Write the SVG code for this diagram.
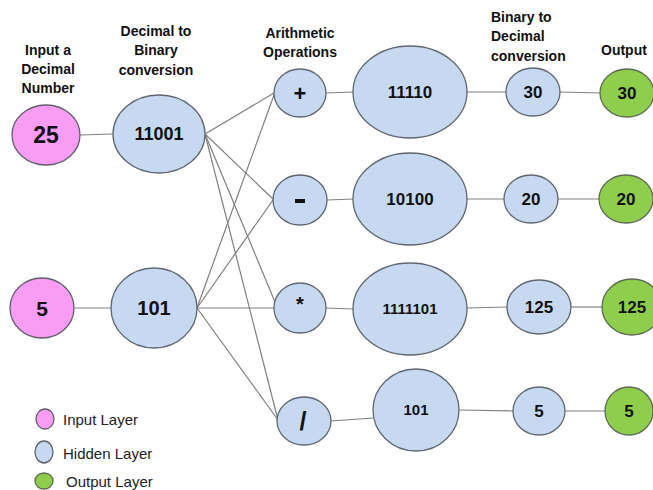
<svg xmlns="http://www.w3.org/2000/svg" width="653" height="490" viewBox="0 0 653 490">
<style>
.in{fill:#f89cf4;stroke:#5f5f6a;stroke-width:1.3}
.hid{fill:#c6d9f1;stroke:#5f6670;stroke-width:1.3}
.out{fill:#8fce4c;stroke:#5f6a55;stroke-width:1.3}
.c line{stroke:#808080;stroke-width:1.2}
text{font-family:"Liberation Sans",Arial,sans-serif;font-weight:bold;fill:#111;text-anchor:middle}
.h{font-size:14px}
.lg{font-weight:normal;font-size:15px;text-anchor:start;fill:#222}
</style>
<rect width="653" height="490" fill="#fff"/>
<g id="headers">
<text class="h" x="48" y="55">Input a</text>
<text class="h" x="48" y="74">Decimal</text>
<text class="h" x="48" y="93">Number</text>
<text class="h" x="156" y="36">Decimal to</text>
<text class="h" x="156" y="55">Binary</text>
<text class="h" x="156" y="75">conversion</text>
<text class="h" x="300" y="38">Arithmetic</text>
<text class="h" x="300" y="57">Operations</text>
<text class="h" x="491" y="22" style="text-anchor:start">Binary to</text>
<text class="h" x="491" y="41" style="text-anchor:start">Decimal</text>
<text class="h" x="491" y="61" style="text-anchor:start">conversion</text>
<text class="h" x="601" y="55" style="text-anchor:start">Output</text>
</g>
<g class="c" id="connectors">
<line x1="80" y1="135" x2="113" y2="134"/>
<line x1="75" y1="308" x2="111" y2="308"/>
<line x1="205" y1="134" x2="274" y2="93"/>
<line x1="205" y1="134" x2="273" y2="199"/>
<line x1="205" y1="134" x2="275" y2="302"/>
<line x1="205" y1="134" x2="278" y2="420"/>
<line x1="197" y1="308" x2="274" y2="95"/>
<line x1="197" y1="308" x2="273" y2="200"/>
<line x1="197" y1="308" x2="274" y2="308"/>
<line x1="197" y1="308" x2="278" y2="420"/>
<line x1="326" y1="93" x2="353" y2="92"/>
<line x1="467" y1="92" x2="506" y2="92"/>
<line x1="560" y1="92" x2="600" y2="93"/>
<line x1="327" y1="200" x2="353" y2="199"/>
<line x1="467" y1="199" x2="504" y2="199"/>
<line x1="558" y1="199" x2="599" y2="199"/>
<line x1="326" y1="308" x2="353" y2="309"/>
<line x1="467" y1="308" x2="507" y2="307"/>
<line x1="571" y1="307" x2="602" y2="307"/>
<line x1="331" y1="421" x2="373" y2="418"/>
<line x1="459" y1="410" x2="513" y2="411"/>
<line x1="565" y1="411" x2="605" y2="411"/>
</g>
<g id="n-in25"><ellipse class="in" cx="46" cy="135" rx="34" ry="30"/><text x="46" y="143" style="font-size:23px">25</text></g>
<g id="n-in5"><ellipse class="in" cx="42" cy="308" rx="32" ry="30"/><text x="42" y="316" style="font-size:21px">5</text></g>
<g id="n-b11001"><ellipse class="hid" cx="159" cy="134" rx="46" ry="39"/><text x="159" y="140" style="font-size:18px">11001</text></g>
<g id="n-b101"><ellipse class="hid" cx="154" cy="308" rx="43" ry="40"/><text x="154" y="315" style="font-size:20px">101</text></g>
<g id="n-plus"><ellipse class="hid" cx="300" cy="93" rx="26" ry="24"/><text x="300" y="101" style="font-size:22px">+</text></g>
<g id="n-minus"><ellipse class="hid" cx="300" cy="200" rx="27" ry="25"/><rect x="295" y="199" width="10" height="4" fill="#111"/></g>
<g id="n-mul"><ellipse class="hid" cx="300" cy="308" rx="26" ry="25"/><text x="300" y="311" style="font-size:20px">*</text></g>
<g id="n-div"><ellipse class="hid" cx="304" cy="421" rx="27" ry="24"/><text x="303" y="430" style="font-size:25px">/</text></g>
<g id="n-r11110"><ellipse class="hid" cx="410" cy="92" rx="57" ry="46"/><text x="410" y="98" style="font-size:17px">11110</text></g>
<g id="n-r10100"><ellipse class="hid" cx="410" cy="199" rx="57" ry="46"/><text x="410" y="205" style="font-size:17px">10100</text></g>
<g id="n-r1111101"><ellipse class="hid" cx="410" cy="309" rx="57" ry="46"/><text x="410" y="314" style="font-size:15px">1111101</text></g>
<g id="n-r101"><ellipse class="hid" cx="416" cy="410" rx="43" ry="41"/><text x="416" y="415" style="font-size:15px">101</text></g>
<g id="n-d30"><ellipse class="hid" cx="533" cy="92" rx="27" ry="24"/><text x="533" y="98" style="font-size:17px">30</text></g>
<g id="n-d20"><ellipse class="hid" cx="531" cy="199" rx="27" ry="24"/><text x="531" y="205" style="font-size:17px">20</text></g>
<g id="n-d125"><ellipse class="hid" cx="539" cy="307" rx="32" ry="27"/><text x="539" y="313" style="font-size:17px">125</text></g>
<g id="n-d5"><ellipse class="hid" cx="539" cy="411" rx="26" ry="24"/><text x="539" y="417" style="font-size:17px">5</text></g>
<g id="n-o30"><ellipse class="out" cx="627" cy="93" rx="27" ry="24"/><text x="627" y="99" style="font-size:17px">30</text></g>
<g id="n-o20"><ellipse class="out" cx="626" cy="199" rx="27" ry="24"/><text x="626" y="205" style="font-size:17px">20</text></g>
<g id="n-o125"><ellipse class="out" cx="632" cy="307" rx="30" ry="28"/><text x="632" y="313" style="font-size:17px">125</text></g>
<g id="n-o5"><ellipse class="out" cx="629" cy="411" rx="24" ry="24"/><text x="629" y="417" style="font-size:17px">5</text></g>
<g id="legend">
<ellipse class="in" cx="45" cy="419" rx="9" ry="10"/>
<text class="lg" x="63" y="425">Input Layer</text>
<ellipse class="hid" cx="44" cy="452" rx="9" ry="11"/>
<text class="lg" x="63" y="459">Hidden Layer</text>
<ellipse class="out" cx="44" cy="481" rx="9" ry="8"/>
<text class="lg" x="66" y="487">Output Layer</text>
</g>
</svg>
